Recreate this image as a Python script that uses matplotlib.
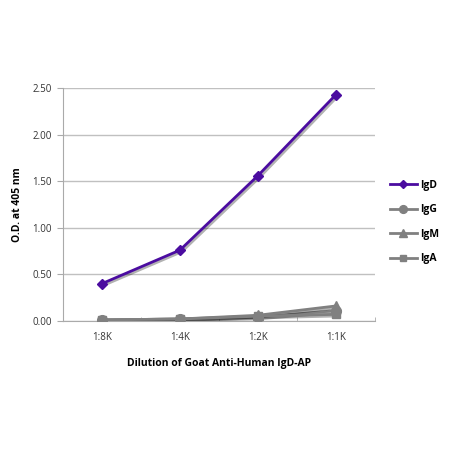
import matplotlib
matplotlib.use("Agg")
import matplotlib.pyplot as plt
import matplotlib.patheffects as pe
from matplotlib.lines import Line2D
import numpy as np

categories = ["1:8K", "1:4K", "1:2K", "1:1K"]
igd = [0.40, 0.76, 1.56, 2.43]
igg = [0.01, 0.02, 0.04, 0.11]
igm = [0.01, 0.02, 0.06, 0.16]
iga = [0.01, 0.02, 0.05, 0.07]
yticks = [0.0, 0.5, 1.0, 1.5, 2.0, 2.5]

plt.rcParams['font.family'] = ['Open Sans', 'DejaVu Sans']

fig = plt.figure(figsize=(4.5, 4.5), dpi=100)
ax = fig.add_axes([0.14, 0.287, 0.693, 0.517])
x = np.arange(len(categories))

shadow = [pe.SimpleLineShadow(offset=(1.2, -1.2), alpha=0.3, shadow_color='black'), pe.Normal()]
gray = '#808080'
purple = '#4B0CA0'

series = [
    ("IgD", igd, purple, 'D', 5),
    ("IgG", igg, gray, 'o', 7),
    ("IgM", igm, gray, '^', 7),
    ("IgA", iga, gray, 's', 6),
]
handles = []
for name, vals, col, mk, ms in series:
    ax.plot(x, vals, color=col, linewidth=2, path_effects=shadow, zorder=3)
    ax.plot(x, vals, color=col, marker=mk, markersize=ms, linestyle='none', zorder=4)
    handles.append(Line2D([], [], color=col, marker=mk, markersize=ms * 0.8,
                          linewidth=2, label=name))

ax.set_xlim(-0.5, len(categories) - 0.5)
ax.set_ylim(0, 2.5)
ax.set_yticks(yticks)
ax.set_yticklabels([f"{v:.2f}" for v in yticks], fontsize=7, color='#333333')
ax.set_xticks(x)
ax.set_xticklabels(categories, fontsize=7, color='#333333')
ax.set_xticks(np.arange(len(categories) + 1) - 0.5, minor=True)
ax.tick_params(axis='x', which='major', length=0, pad=8)
ax.tick_params(axis='x', which='minor', length=3, color='#aaaaaa', direction='in')
ax.tick_params(axis='y', length=4, color='#aaaaaa', pad=4)

ax.grid(axis='y', color='#c0c0c0', linewidth=1)
ax.set_axisbelow(True)
for s in ['top', 'right']:
    ax.spines[s].set_visible(False)
ax.spines['left'].set_color('#aaaaaa')
ax.spines['bottom'].set_color('#aaaaaa')

ax.set_ylabel("O.D. at 405 nm", fontsize=7.5, fontweight='bold', labelpad=7)
ax.set_xlabel("Dilution of Goat Anti-Human IgD-AP", fontsize=7.5, fontweight='bold', labelpad=11)

ax.legend(handles=handles, loc='center left', bbox_to_anchor=(1.02, 0.425), frameon=False,
          prop={'size': 7.5, 'weight': 'bold'}, handlelength=2.5,
          labelspacing=1.3, handletextpad=0.3)

fig.savefig("out.png", dpi=100)
